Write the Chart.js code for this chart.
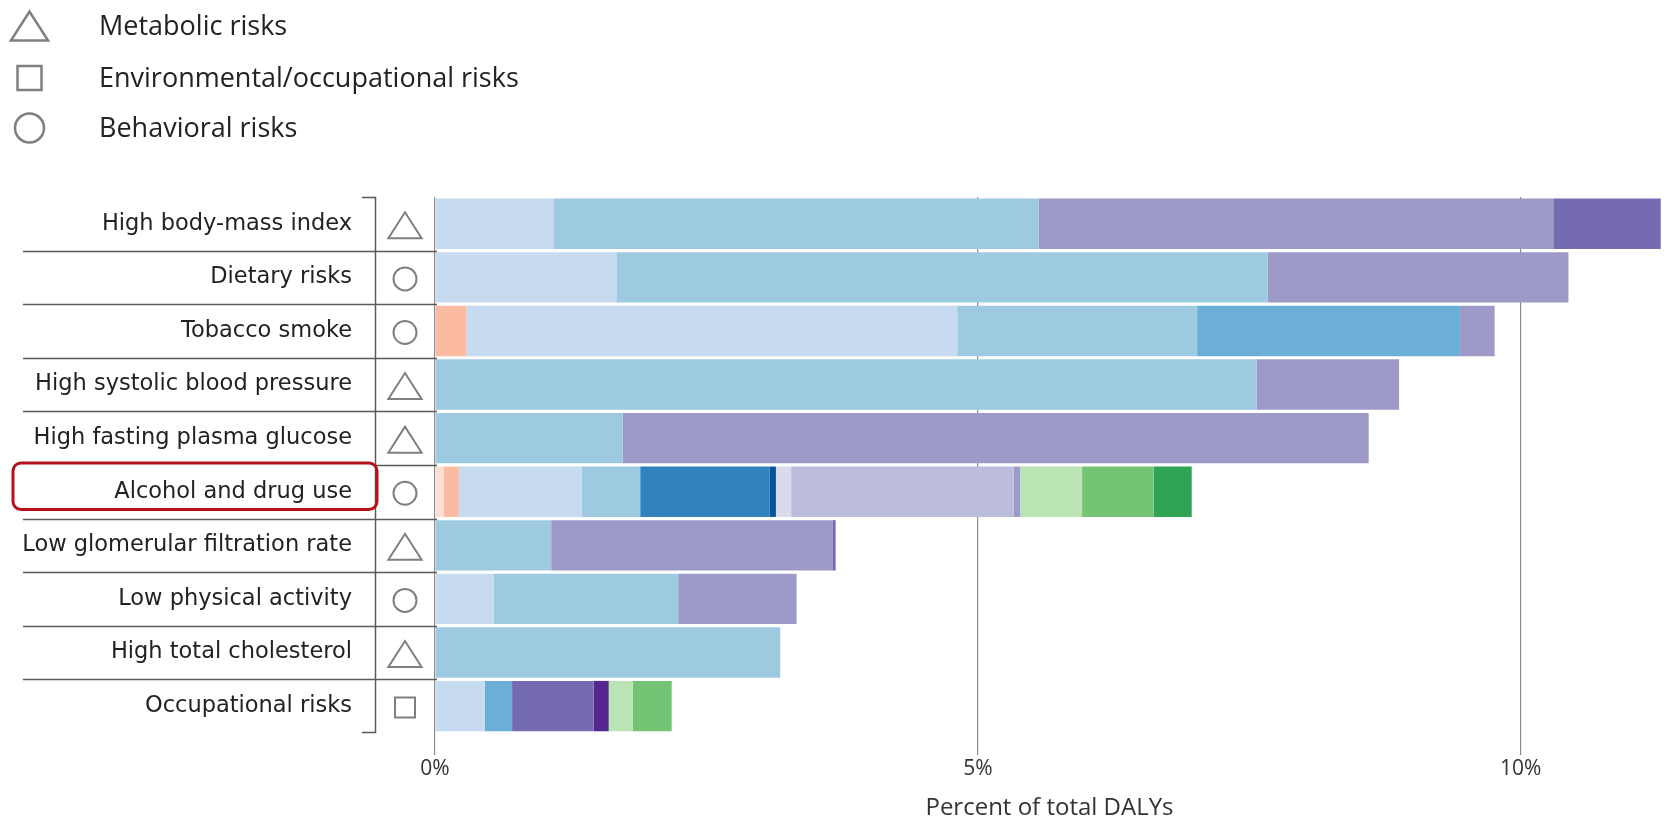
<!DOCTYPE html>
<html>
<head>
<meta charset="utf-8">
<title>Percent of total DALYs by risk factor</title>
<script src="https://cdn.jsdelivr.net/npm/chart.js@4.4.1/dist/chart.umd.min.js"></script>
<style>
    html, body { margin: 0; padding: 0; background: #fff; }
    #wrap { width: 1670px; height: 817px; position: relative; }
</style>
</head>
<body>
<div id="wrap"><canvas id="dalyChart"></canvas></div>
<script>
// Risk factors, top to bottom
const riskLabels = [
    'High body-mass index', 'Dietary risks', 'Tobacco smoke',
    'High systolic blood pressure', 'High fasting plasma glucose',
    'Alcohol and drug use', 'Low glomerular filtration rate',
    'Low physical activity', 'High total cholesterol', 'Occupational risks',
];
const riskGroups = [
    'metabolic', 'behavioral', 'behavioral', 'metabolic', 'metabolic',
    'behavioral', 'metabolic', 'behavioral', 'metabolic', 'environmental',
];
const highlightedRisk = 'Alcohol and drug use';

// Legend entries
const legendGroups = ['metabolic', 'environmental', 'behavioral'];
const legendNames = ['Metabolic risks', 'Environmental/occupational risks', 'Behavioral risks'];

// x axis
const xTicks = [0, 5, 10];
const xTitle = 'Percent of total DALYs';

// Percent of total DALYs for each cause segment (one value per risk, same order as riskLabels)
const orange1 = [0, 0, 0, 0, 0, 0.08, 0, 0, 0, 0];
const orange2 = [0, 0, 0.29, 0, 0, 0.14, 0, 0, 0, 0];
const blue1 = [1.09, 1.67, 4.52, 0, 0, 1.13, 0, 0.54, 0, 0.46];
const blue2 = [4.47, 6.00, 2.21, 7.57, 1.73, 0.54, 1.07, 1.70, 3.18, 0];
const blue3 = [0, 0, 2.42, 0, 0, 0, 0, 0, 0, 0.25];
const blue4 = [0, 0, 0, 0, 0, 1.19, 0, 0, 0, 0];
const blue5 = [0, 0, 0, 0, 0, 0.06, 0, 0, 0, 0];
const purple1 = [0, 0, 0, 0, 0, 0.14, 0, 0, 0, 0];
const purple2 = [0, 0, 0, 0, 0, 2.05, 0, 0, 0, 0];
const purple3 = [4.74, 2.77, 0.32, 1.31, 6.87, 0.06, 2.59, 1.09, 0, 0];
const purple4 = [0.99, 0, 0, 0, 0, 0, 0.03, 0, 0, 0.75];
const purple5 = [0, 0, 0, 0, 0, 0, 0, 0, 0, 0.14];
const green1 = [0, 0, 0, 0, 0, 0.57, 0, 0, 0, 0.22];
const green2 = [0, 0, 0, 0, 0, 0.66, 0, 0, 0, 0.36];
const green3 = [0, 0, 0, 0, 0, 0.35, 0, 0, 0, 0];

const segments = [orange1, orange2, blue1, blue2, blue3, blue4, blue5,
    purple1, purple2, purple3, purple4, purple5, green1, green2, green3];
const segmentColors = ['#fee0d2', '#fcbba1', '#c6dbef', '#9ecae1', '#6baed6', '#3182bd', '#08519c',
    '#dadaeb', '#bcbddc', '#9e9ac8', '#756bb1', '#54278f', '#bae4b3', '#74c476', '#31a354'];

const LINE = '#5a5a5a';
const SYMBOL = '#7f7f7f';

/**
 * Draw a risk-group marker (outline triangle, square or circle).
 * @param {number} size - triangle height / square side / circle diameter
 */
function drawSymbol(ctx, type, cx, cy, size) {
    ctx.beginPath();
    if (type === 'metabolic') {
        const w = size * 1.28, h = size;
        ctx.moveTo(cx - w / 2, cy + h / 2);
        ctx.lineTo(cx + w / 2, cy + h / 2);
        ctx.lineTo(cx, cy - h / 2);
        ctx.closePath();
    } else if (type === 'environmental') {
        ctx.rect(cx - size / 2, cy - size / 2, size, size);
    } else {
        ctx.arc(cx, cy, size / 2, 0, Math.PI * 2);
    }
    ctx.stroke();
}

// Legend, row separators, bracket, risk markers and highlight box
const decorations = {
    id: 'decorations',
    afterDraw(chart) {
        const { ctx, chartArea } = chart;
        const y = chart.scales.y;
        const step = y.getPixelForValue(1) - y.getPixelForValue(0);
        const bracketX = 375;
        ctx.save();

        // legend
        ctx.strokeStyle = SYMBOL;
        ctx.lineWidth = 2.5;
        ctx.font = '27px "Open Sans"';
        ctx.fillStyle = '#222';
        ctx.textBaseline = 'middle';
        ctx.textAlign = 'left';
        const legendY = [26, 78, 128];
        const legendSize = { metabolic: 29, environmental: 24, behavioral: 29 };
        legendGroups.forEach((g, i) => {
            drawSymbol(ctx, g, 29.5, legendY[i], legendSize[g]);
            ctx.fillText(legendNames[i], 99, legendY[i] + 1);
        });

        // separators between rows
        ctx.strokeStyle = LINE;
        ctx.lineWidth = 1.5;
        const hi = riskLabels.indexOf(highlightedRisk);
        for (let i = 1; i < riskLabels.length; i++) {
            const yy = Math.round(y.getPixelForValue(i) - step / 2) + 0.5;
            ctx.beginPath();
            ctx.moveTo(i === hi ? bracketX : 23, yy);
            ctx.lineTo(chartArea.left + 2, yy);
            ctx.stroke();
        }

        // bracket
        ctx.beginPath();
        ctx.moveTo(bracketX - 13, chartArea.top + 0.5);
        ctx.lineTo(bracketX + 0.5, chartArea.top + 0.5);
        ctx.lineTo(bracketX + 0.5, chartArea.bottom - 0.5);
        ctx.lineTo(bracketX - 13, chartArea.bottom - 0.5);
        ctx.stroke();

        // risk markers
        ctx.strokeStyle = SYMBOL;
        ctx.lineWidth = 2;
        const rowSize = { metabolic: 26, environmental: 20, behavioral: 23 };
        riskGroups.forEach((g, i) => {
            drawSymbol(ctx, g, 405, y.getPixelForValue(i) + 1.5, rowSize[g]);
        });

        // highlight box
        const top = y.getPixelForValue(hi) - step / 2 - 2;
        ctx.strokeStyle = '#b5121b';
        ctx.lineWidth = 3;
        ctx.beginPath();
        ctx.roundRect(13, top, bracketX - 13 + 2, step - 7, 8);
        ctx.stroke();

        ctx.restore();
    },
};

const ctx = document.getElementById('dalyChart').getContext('2d');
new Chart(ctx, {
    type: 'bar',
    data: {
        labels: riskLabels,
        datasets: segments.map((data, i) => ({
            data: data,
            backgroundColor: segmentColors[i],
            borderWidth: 0,
            barPercentage: 0.94,
            categoryPercentage: 1,
        })),
    },
    options: {
        indexAxis: 'y',
        responsive: true,
        maintainAspectRatio: false,
        animation: false,
        layout: { padding: { top: 197, right: 6, left: 0, bottom: 0 } },
        plugins: {
            legend: { display: false },
            tooltip: { enabled: false },
        },
        scales: {
            x: {
                stacked: true,
                min: 0,
                max: 11.32,
                afterBuildTicks: (scale) => { scale.ticks = xTicks.map((v) => ({ value: v })); },
                afterFit: (scale) => { scale.height = 83; },
                border: { display: false },
                grid: { color: '#8c8c8c', lineWidth: 1.2, tickLength: 22, drawTicks: true },
                ticks: {
                    padding: 2,
                    color: '#333',
                    font: { family: '"Open Sans"', size: 21 },
                    callback: (v) => v + '%',
                },
                title: {
                    display: true,
                    text: xTitle,
                    color: '#333',
                    font: { family: '"Open Sans"', size: 24, lineHeight: 1 },
                    padding: { top: 0, bottom: -4 },
                },
            },
            y: {
                stacked: true,
                afterFit: (scale) => { scale.width = 435; },
                border: { display: false },
                grid: { display: false, drawTicks: false },
                ticks: {
                    padding: 83,
                    color: '#222',
                    font: { family: '"DejaVu Sans"', size: 22.5, lineHeight: 0.1 },
                },
            },
        },
    },
    plugins: [decorations],
});
</script>
</body>
</html>
